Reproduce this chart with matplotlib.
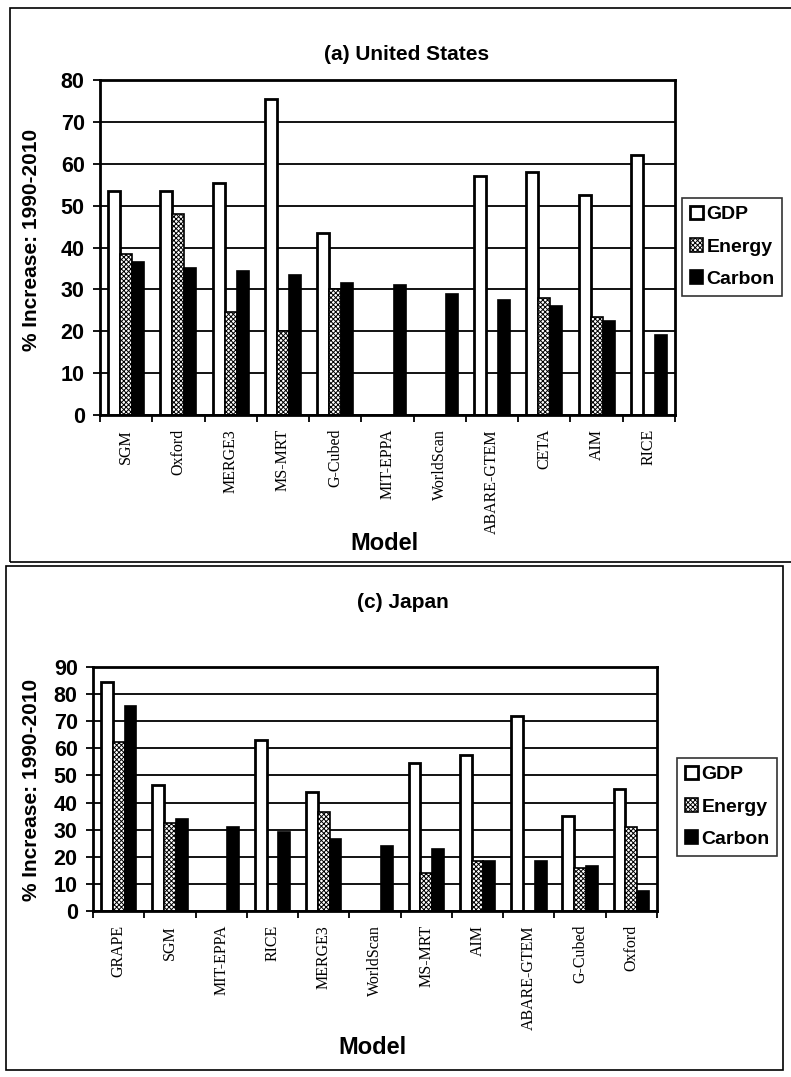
import numpy as np
import matplotlib
matplotlib.use("Agg")
from matplotlib import pyplot as plt
from matplotlib.patches import Rectangle

nan = np.nan

# (a) United States
us_models = ["SGM", "Oxford", "MERGE3", "MS-MRT", "G-Cubed", "MIT-EPPA",
             "WorldScan", "ABARE-GTEM", "CETA", "AIM", "RICE"]
us_gdp = [53.5, 53.5, 55.5, 75.5, 43.5, nan, nan, 57, 58, 52.5, 62]
us_energy = [38.5, 48, 24.5, 20, 30, nan, nan, nan, 28, 23.5, nan]
us_carbon = [36.5, 35, 34.5, 33.5, 31.5, 31, 29, 27.5, 26, 22.5, 19]

# (c) Japan
jp_models = ["GRAPE", "SGM", "MIT-EPPA", "RICE", "MERGE3", "WorldScan",
             "MS-MRT", "AIM", "ABARE-GTEM", "G-Cubed", "Oxford"]
jp_gdp = [84.5, 46.5, nan, 63, 44, nan, 54.5, 57.5, 72, 35, 45]
jp_energy = [62.5, 32.5, nan, nan, 36.5, nan, 14, 18.5, nan, 16, 31]
jp_carbon = [75.5, 34, 31, 29, 26.5, 24, 23, 18.5, 18.5, 16.5, 7.5]

plt.rcParams['hatch.linewidth'] = 0.7
sans = ['Liberation Sans', 'DejaVu Sans']
serif = ['Liberation Serif', 'DejaVu Serif']

W, H = 791, 1077
fig = plt.figure(figsize=(W / 100, H / 100), dpi=100)


def px(x0, y0, x1, y1):
    return [x0 / W, 1 - y1 / H, (x1 - x0) / W, (y1 - y0) / H]


def panel(rect, models, gdp, energy, carbon, ymax, title, title_xy, label_y, model_xy, leg_box):
    ax = fig.add_axes(px(*rect))
    x = np.arange(len(models))
    w = 0.23
    ax.bar(x - w, gdp, w, facecolor='white', edgecolor='black', linewidth=2, label='GDP')
    ax.bar(x, energy, w, facecolor='white', edgecolor='black', linewidth=1.2,
           hatch='xxxxxxx', label='Energy')
    ax.bar(x + w, carbon, w, facecolor='black', edgecolor='black', linewidth=1.2, label='Carbon')

    ax.set_xlim(-0.5, len(models) - 0.5)
    ax.set_ylim(0, ymax)
    ax.set_yticks(np.arange(0, ymax + 1, 10))
    ax.set_xticks(np.arange(-0.5, len(models)), [''] * (len(models) + 1))
    ax.set_xticks(x, models, minor=True, rotation=90, fontfamily=serif, fontsize=11.5)
    ax.tick_params(axis='x', which='major', direction='out', length=5, width=1.3)
    ax.tick_params(axis='x', which='minor', length=0, pad=10)
    ax.tick_params(axis='y', direction='out', length=5, width=1.3, pad=6, labelsize=15.5)
    for t in ax.get_yticklabels():
        t.set_fontfamily(sans)
        t.set_fontweight('bold')
    ax.yaxis.grid(True, color='black', linewidth=1.3)
    ax.set_axisbelow(True)
    for s in ax.spines.values():
        s.set_linewidth(2)

    fig.text(title_xy[0] / W, 1 - title_xy[1] / H, title, ha='center', va='center',
             fontsize=15, fontweight='bold', family=sans)
    fig.text(32 / W, 1 - label_y / H, '% Increase: 1990-2010', rotation=90,
             ha='center', va='center', fontsize=15, fontweight='bold', family=sans)
    fig.text(model_xy[0] / W, 1 - model_xy[1] / H, 'Model', ha='center', va='center',
             fontsize=17, fontweight='bold', family=sans)

    lx0, ly0, lx1, ly1 = leg_box
    leg = ax.legend(loc='upper left', bbox_to_anchor=(lx0 / W, 1 - ly0 / H),
                    bbox_transform=fig.transFigure, frameon=True, fancybox=False,
                    prop={'family': sans, 'weight': 'bold', 'size': 14},
                    handlelength=0.7, handleheight=0.7, handletextpad=0.15,
                    labelspacing=0.75, borderpad=0.4, borderaxespad=0)
    leg.get_frame().set_edgecolor('black')
    leg.get_frame().set_linewidth(1.2)
    return ax


panel((100, 80, 675, 415), us_models, us_gdp, us_energy, us_carbon, 80,
      '(a) United States', (407, 54), 240, (384, 543), (682, 198, 776, 298))
panel((93, 667, 657, 911), jp_models, jp_gdp, jp_energy, jp_carbon, 90,
      '(c) Japan', (403, 603), 790, (372, 1048), (677, 758, 781, 855))

# scanned page frames around each panel
for x0, y0, x1, y1 in [(10, 8, 800, 562), (6, 566, 783, 1070)]:
    fig.patches.append(Rectangle((x0 / W, 1 - y1 / H), (x1 - x0) / W, (y1 - y0) / H,
                                 transform=fig.transFigure, fill=False,
                                 edgecolor='black', linewidth=1.2))

fig.savefig('out.png', dpi=100, facecolor='white')
